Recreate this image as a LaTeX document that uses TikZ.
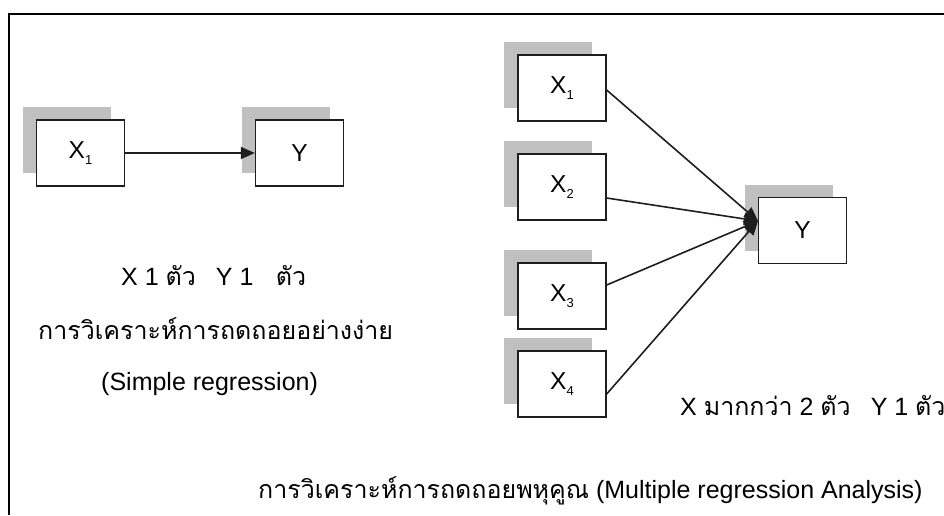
\documentclass[tikz,border=0pt]{standalone}
\usepackage{fontspec}
\setmainfont{Liberation Sans}
\newfontfamily\thaifont[Script=Thai]{Loma}
\usetikzlibrary{arrows.meta,shadows,calc}
\definecolor{shadowgray}{RGB}{192,192,192}
\definecolor{edgegray}{RGB}{30,30,30}
\newcommand\xsub[1]{\raisebox{-6pt}{\fontsize{13}{13}\selectfont #1}}
\tikzset{
  varbox/.style={draw=edgegray, line width=1.3pt, fill=white,
    minimum width=88pt, minimum height=66pt, inner sep=0pt,
    font=\fontsize{24.5}{26}\selectfont,
    drop shadow={shadow xshift=-14pt, shadow yshift=13pt, fill=shadowgray, opacity=1}},
  link/.style={line width=1.6pt, draw=edgegray,
    -{Triangle[length=14pt,width=12pt]}},
  caption/.style={font=\fontsize{25}{28}\selectfont, inner sep=0pt, anchor=base west},
}
\begin{document}
\begin{tikzpicture}[x=1pt,y=-1pt]
\useasboundingbox (0,0) rectangle (944,515);
\fill[white] (0,0) rectangle (944,515);
\draw[line width=2pt] (8.5,515) -- (8.5,13.5) -- (944,13.5);
% simple regression
\node[varbox] (sx1) at (80.5,153) {X\xsub{1}};
\node[varbox] (sy) at (299.5,153) {Y};
\draw[link] (sx1.east) -- (sy.west);
\node[caption] (t1) at (121,285) {X 1 {\thaifont ตัว}\hspace{0.8em}Y 1\hspace{0.9em}{\thaifont ตัว}};
\node[caption] (t2) at (38,339) {\thaifont การวิเคราะห์การถดถอยอย่างง่าย};
\node[caption] (t3) at (101,390) {(Simple regression)};
% multiple regression
\node[varbox] (mx1) at (562,88) {X\xsub{1}};
\node[varbox] (mx2) at (562,187) {X\xsub{2}};
\node[varbox] (mx3) at (562,296) {X\xsub{3}};
\node[varbox] (mx4) at (562,384) {X\xsub{4}};
\node[varbox] (my) at (802.5,230.5) {Y};
\coordinate (tip) at (758,221);
\draw[link] ($(mx1.east)+(0,2)$) -- (tip);
\draw[link] ($(mx2.east)+(0,11)$) -- (tip);
\draw[link] ($(mx3.east)+(0,-11)$) -- (tip);
\draw[link] ($(mx4.east)+(0,10)$) -- (tip);
\node[caption] (t4) at (680,415) {X {\thaifont มากกว่า} 2 {\thaifont ตัว}\hspace{0.8em}Y 1 {\thaifont ตัว}};
\node[caption] (t5) at (258,498) {{\thaifont การวิเคราะห์การถดถอยพหุคูณ} (Multiple regression Analysis)};
\end{tikzpicture}
\end{document}
